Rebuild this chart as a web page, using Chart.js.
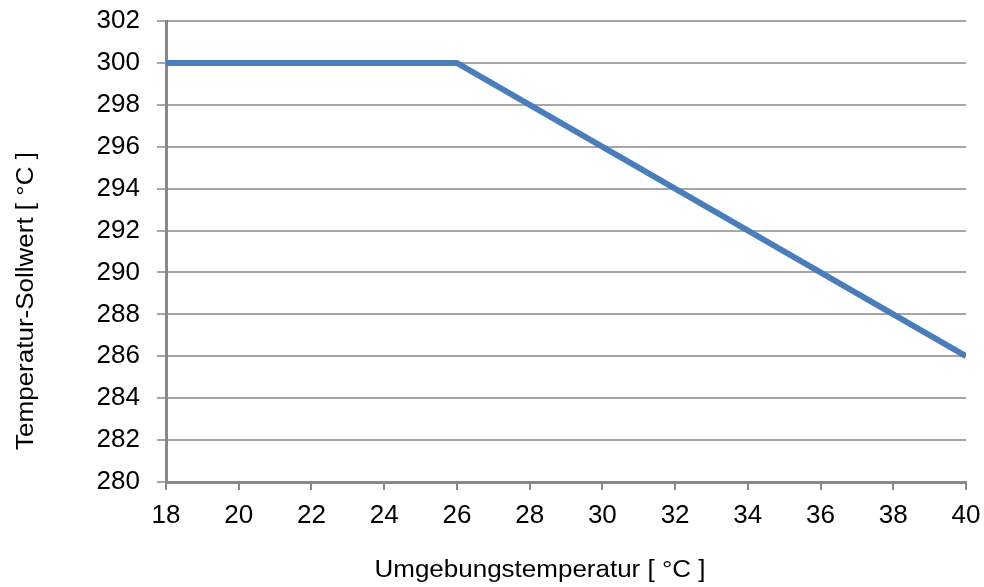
<!DOCTYPE html>
<html>
<head>
<meta charset="utf-8">
<script src="https://cdn.jsdelivr.net/npm/chart.js@4/dist/chart.umd.min.js"></script>
<style>
  html, body { margin: 0; padding: 0; background: #fff; }
  #wrap { width: 984px; height: 587px; }
</style>
</head>
<body>
<div id="wrap"><canvas id="chart" width="984" height="587"></canvas></div>
<script>
const ambientTemps = [18, 26, 40];
const setpoints = [300, 300, 286];
const xTicks = [18, 20, 22, 24, 26, 28, 30, 32, 34, 36, 38, 40];
const yTicks = [280, 282, 284, 286, 288, 290, 292, 294, 296, 298, 300, 302];

const xTitle = "Umgebungstemperatur [ °C ]";
const yTitle = "Temperatur-Sollwert [ °C ]";

const FONT = "'Liberation Sans', Arial, sans-serif";

// axis titles sit centred on the page, not on the plot area
// the source font is a bit wider than Liberation, so stretch a little
const titlePlugin = {
  id: "pageTitles",
  afterDraw(chart) {
    const ctx = chart.ctx;
    ctx.save();
    ctx.fillStyle = "#000";
    ctx.font = "23px " + FONT;
    ctx.textAlign = "center";
    ctx.textBaseline = "middle";
    ctx.save();
    ctx.translate(540, 571);
    ctx.scale(1.13, 1);
    ctx.fillText(xTitle, 0, 0);
    ctx.restore();
    ctx.translate(27, 301);
    ctx.rotate(-Math.PI / 2);
    ctx.scale(1.13, 1);
    ctx.fillText(yTitle, 0, 0);
    ctx.restore();
  }
};

new Chart(document.getElementById("chart"), {
  type: "line",
  data: {
    datasets: [
      {
        data: ambientTemps.map((t, i) => ({ x: t, y: setpoints[i] })),
        borderColor: "#4a7ebb",
        borderWidth: 6,
        pointRadius: 0,
        tension: 0,
        fill: false
      }
    ]
  },
  options: {
    responsive: false,
    animation: false,
    devicePixelRatio: 1,
    layout: { padding: { top: 21, right: 18, left: 0, bottom: 0 } },
    plugins: {
      legend: { display: false },
      tooltip: { enabled: false }
    },
    scales: {
      x: {
        type: "linear",
        min: 18,
        max: 40,
        afterBuildTicks: (scale) => {
          scale.ticks = xTicks.map((v) => ({ value: v }));
        },
        afterFit: (scale) => {
          scale.height = 105;
          scale.paddingLeft = 0;
          scale.paddingRight = 0;
        },
        grid: {
          drawOnChartArea: false,
          drawTicks: true,
          tickLength: 8,
          color: "#888",
          lineWidth: 2
        },
        border: { color: "#888", width: 3 },
        ticks: {
          color: "#000",
          font: { family: FONT, size: 26 },
          padding: 10,
          maxRotation: 0
        }
      },
      y: {
        type: "linear",
        min: 280,
        max: 302,
        afterBuildTicks: (scale) => {
          scale.ticks = yTicks.map((v) => ({ value: v }));
        },
        afterFit: (scale) => {
          scale.width = 166;
          scale.paddingTop = 0;
          scale.paddingBottom = 0;
        },
        grid: {
          color: "#a6a6a6",
          lineWidth: 2,
          tickLength: 9
        },
        border: { color: "#888", width: 3 },
        ticks: {
          color: "#000",
          font: { family: FONT, size: 26 },
          padding: 17
        }
      }
    }
  },
  plugins: [titlePlugin]
});
</script>
</body>
</html>
